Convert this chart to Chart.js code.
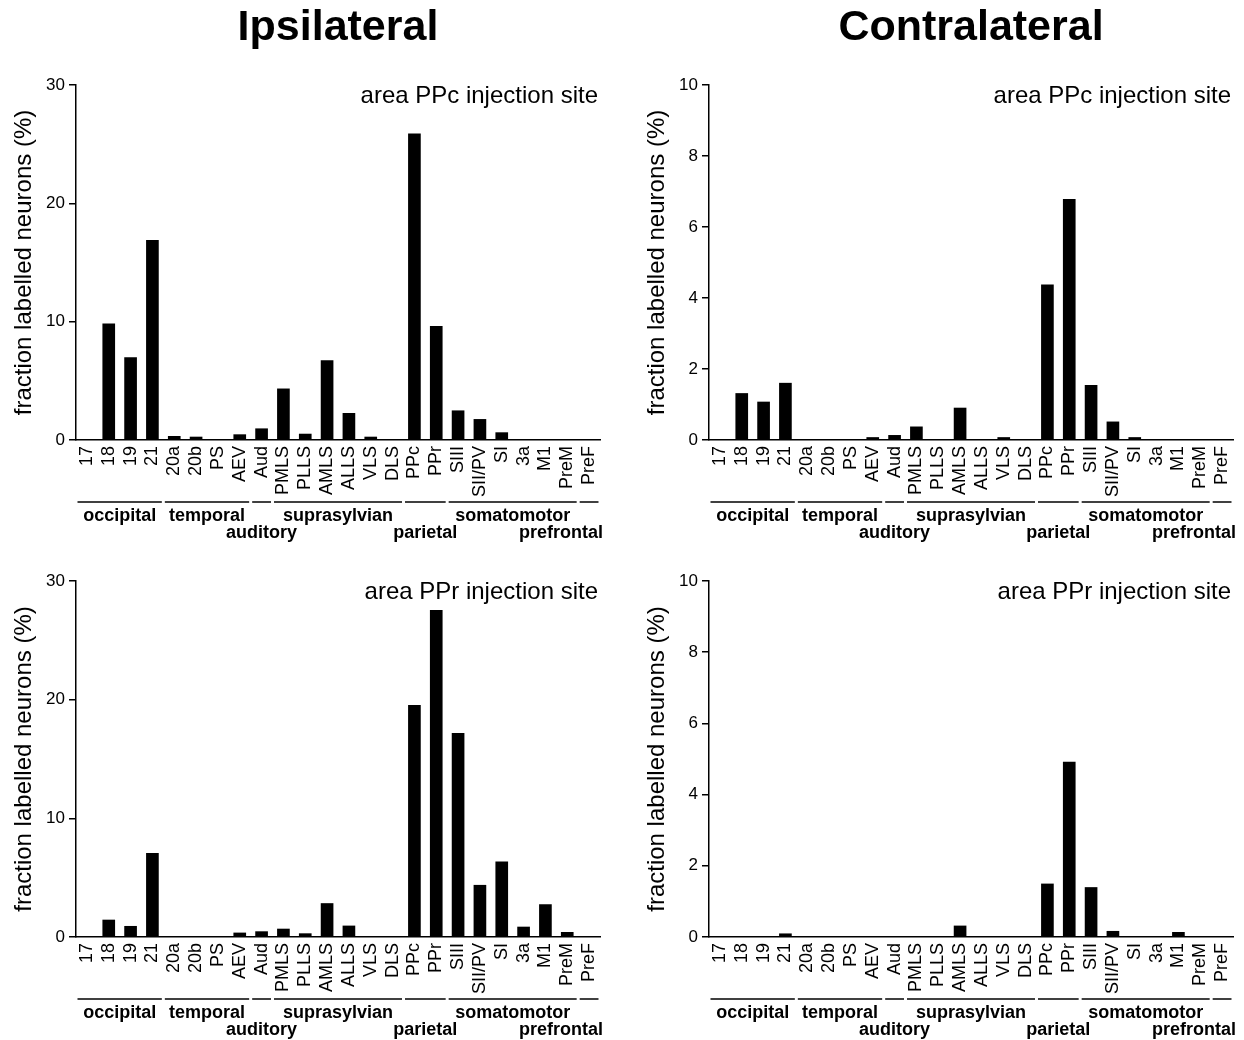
<!DOCTYPE html>
<html><head><meta charset="utf-8">
<script src="https://cdn.jsdelivr.net/npm/chart.js@4.4.1/dist/chart.umd.min.js"></script>
<style>
html,body{margin:0;padding:0;background:#fff;width:1244px;height:1040px;overflow:hidden;position:relative;}
canvas{position:absolute;}
</style></head><body>
<canvas id="c0"></canvas>
<canvas id="c1"></canvas>
<canvas id="c2"></canvas>
<canvas id="c3"></canvas>
<script>
const categories = ['17','18','19','21','20a','20b','PS','AEV','Aud','PMLS','PLLS','AMLS','ALLS','VLS','DLS','PPc','PPr','SIII','SII/PV','SI','3a','M1','PreM','PreF'];
const ipsiPPc   = [0, 9.85, 7.0, 16.9, 0.34, 0.28, 0, 0.48, 0.98, 4.35, 0.53, 6.74, 2.28, 0.28, 0, 25.9, 9.63, 2.5, 1.77, 0.65, 0, 0, 0, 0];
const contraPPc = [0, 1.32, 1.08, 1.61, 0, 0, 0, 0.08, 0.14, 0.38, 0, 0.91, 0, 0.08, 0, 4.38, 6.79, 1.55, 0.52, 0.08, 0, 0, 0, 0];
const ipsiPPr   = [0, 1.46, 0.93, 7.07, 0, 0, 0, 0.37, 0.48, 0.7, 0.31, 2.85, 0.96, 0, 0, 19.55, 27.55, 17.2, 4.39, 6.37, 0.87, 2.76, 0.42, 0];
const contraPPr = [0, 0, 0, 0.1, 0, 0, 0, 0, 0, 0, 0, 0.32, 0, 0, 0, 1.5, 4.92, 1.4, 0.17, 0, 0, 0.14, 0, 0];
const groupNames = ['occipital','temporal','auditory','suprasylvian','parietal','somatomotor','prefrontal'];
const groupSizes = [4, 4, 1, 6, 2, 6, 1];
const groupRows  = [0, 0, 1, 0, 1, 0, 1];
const ipsiAxisMax = 30, ipsiStep = 10;
const contraAxisMax = 10, contraStep = 2;
const columnTitles = ['Ipsilateral', 'Contralateral'];
const injectionSites = ['area PPc injection site', 'area PPr injection site'];
const yTitle = 'fraction labelled neurons (%)';

const FAM = '"Liberation Sans", Arial, Helvetica, sans-serif';
Chart.defaults.font.family = FAM;
Chart.defaults.color = '#000';

const decor = {
  id: 'decor',
  afterDraw(chart, args, opts) {
    const {ctx, chartArea} = chart;
    const xs = chart.scales.x;
    const bottom = chartArea.bottom;
    const step = xs.getPixelForValue(1) - xs.getPixelForValue(0);
    ctx.save();
    ctx.fillStyle = '#000'; ctx.strokeStyle = '#000';
    ctx.font = 'bold 18px ' + FAM;
    ctx.textBaseline = 'alphabetic';
    let idx = 0;
    groupSizes.forEach((n, g) => {
      const x0 = xs.getPixelForValue(idx) - step / 2 + 1.5;
      const x1 = xs.getPixelForValue(idx + n - 1) + step / 2 - 1.5;
      ctx.lineWidth = 1.5;
      ctx.beginPath(); ctx.moveTo(x0, bottom + 62); ctx.lineTo(x1, bottom + 62); ctx.stroke();
      const w = ctx.measureText(groupNames[g]).width;
      let tx = (x0 + x1) / 2 - w / 2;
      if (tx + w > chartArea.right + 3) tx = chartArea.right + 3 - w;
      ctx.textAlign = 'left';
      ctx.fillText(groupNames[g], tx, bottom + 81 + groupRows[g] * 17);
      idx += n;
    });
    ctx.font = '24px ' + FAM;
    ctx.textAlign = 'right';
    ctx.fillText(opts.site, chartArea.right - 2, chartArea.top + 18);
    if (opts.title) {
      ctx.font = 'bold 43px ' + FAM;
      ctx.textAlign = 'center';
      ctx.fillText(opts.title, (chartArea.left + chartArea.right) / 2, 40);
    }
    ctx.restore();
  }
};

const panels = [
  {id: 'c0', left: 0,   top: 0,   width: 622, yTop: 85,  yZero: 440, padRight: 22, data: ipsiPPc,   max: ipsiAxisMax,   step: ipsiStep,   site: injectionSites[0], title: columnTitles[0]},
  {id: 'c1', left: 633, top: 0,   width: 611, yTop: 85,  yZero: 440, padRight: 11, data: contraPPc, max: contraAxisMax, step: contraStep, site: injectionSites[0], title: columnTitles[1]},
  {id: 'c2', left: 0,   top: 496, width: 622, yTop: 581, yZero: 937, padRight: 22, data: ipsiPPr,   max: ipsiAxisMax,   step: ipsiStep,   site: injectionSites[1], title: null},
  {id: 'c3', left: 633, top: 496, width: 611, yTop: 581, yZero: 937, padRight: 11, data: contraPPr, max: contraAxisMax, step: contraStep, site: injectionSites[1], title: null}
];

panels.forEach(p => {
  const cv = document.getElementById(p.id);
  const h = (p.yZero - p.top) + 110;
  cv.width = p.width; cv.height = h;
  cv.style.left = p.left + 'px'; cv.style.top = p.top + 'px';
  cv.style.width = p.width + 'px'; cv.style.height = h + 'px';
  new Chart(cv, {
    type: 'bar',
    data: {
      labels: categories,
      datasets: [{data: p.data, backgroundColor: '#000', borderWidth: 0, barPercentage: 0.58, categoryPercentage: 1.0}]
    },
    options: {
      responsive: false,
      animation: false,
      devicePixelRatio: 1,
      layout: {padding: {top: p.yTop - p.top, right: p.padRight, left: 0, bottom: 0}},
      plugins: {legend: {display: false}, tooltip: {enabled: false}, decor: {site: p.site, title: p.title}},
      scales: {
        x: {
          afterFit: s => { s.height = 110; s.paddingLeft = 0; s.paddingRight = 0; },
          grid: {display: false, drawTicks: false},
          border: {display: true, color: '#000', width: 1.5},
          ticks: {autoSkip: false, maxRotation: 90, minRotation: 90, color: '#000', font: {size: 18, family: FAM}, padding: 6}
        },
        y: {
          min: 0, max: p.max,
          afterFit: s => { s.width = 76; s.paddingTop = 0; s.paddingBottom = 0; },
          grid: {drawOnChartArea: false, drawTicks: true, tickLength: 7, color: '#000', lineWidth: 1.5},
          border: {display: true, color: '#000', width: 1.5},
          ticks: {stepSize: p.step, color: '#000', font: {size: 17, family: FAM}, padding: 4},
          title: {display: true, text: yTitle, color: '#000', font: {size: 24, family: FAM}, padding: {top: 10, bottom: 0}}
        }
      }
    },
    plugins: [decor]
  });
});
</script>
</body></html>
